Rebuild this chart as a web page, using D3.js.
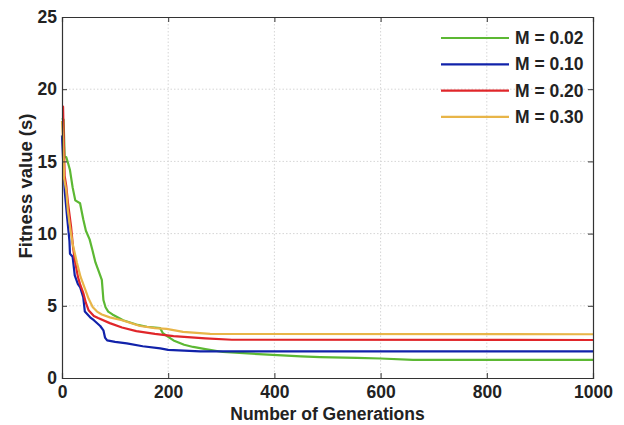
<!DOCTYPE html>
<html>
<head>
<meta charset="utf-8">
<script src="https://cdn.jsdelivr.net/npm/d3@7"></script>
<style>
  body { margin: 0; background: #fff; }
  svg { display: block; }
  text { font-family: "Liberation Sans", Arial, sans-serif; font-weight: bold; fill: #222; }
</style>
</head>
<body>
<svg id="chart" width="624" height="425"></svg>
<script>
// ---- data ----
const seriesNames = ["M = 0.02", "M = 0.10", "M = 0.20", "M = 0.30"];
const seriesColors = ["#5cb833", "#1122aa", "#e0262a", "#e8b548"];

const genGreen = [0, 3, 5, 8, 12, 15, 20, 25, 34, 40, 45, 52, 57, 63, 68, 75, 78, 82, 87, 95, 115, 140, 160, 185, 190, 210, 230, 247, 270, 303, 350, 397, 450, 486, 555, 600, 661, 1000];
const fitGreen = [18.0, 17.9, 15.3, 15.3, 14.8, 14.4, 13.2, 12.3, 12.1, 11.0, 10.2, 9.6, 8.9, 8.0, 7.5, 6.8, 5.4, 4.9, 4.6, 4.4, 4.0, 3.7, 3.55, 3.45, 3.1, 2.6, 2.3, 2.15, 2.0, 1.8, 1.7, 1.6, 1.5, 1.45, 1.4, 1.35, 1.25, 1.25];

const genBlue = [0, 2, 5, 10, 14, 15, 20, 24, 30, 34, 40, 43, 53, 60, 72, 78, 81, 85, 100, 122, 152, 185, 200, 230, 260, 1000];
const fitBlue = [16.8, 15.2, 13.0, 11.0, 9.5, 8.6, 8.4, 7.1, 6.5, 6.3, 5.6, 4.6, 4.2, 4.0, 3.6, 3.3, 2.8, 2.6, 2.5, 2.4, 2.2, 2.05, 1.95, 1.9, 1.85, 1.85];

const genRed = [0, 2, 3, 5, 8, 11, 17, 21, 24, 30, 34, 40, 45, 50, 60, 68, 90, 113, 140, 175, 210, 270, 320, 1000];
const fitRed = [18.8, 18.8, 17.0, 14.0, 13.3, 12.2, 10.5, 9.0, 8.2, 7.0, 6.5, 5.9, 5.2, 4.7, 4.3, 4.15, 3.8, 3.5, 3.25, 3.05, 2.9, 2.75, 2.65, 2.63];

const genYellow = [0, 2, 4, 8, 11, 15, 20, 28, 35, 43, 50, 58, 66, 75, 90, 113, 147, 175, 197, 228, 279, 1000];
const fitYellow = [17.8, 16.5, 13.8, 13.0, 11.6, 10.5, 9.3, 8.0, 7.0, 6.2, 5.5, 4.9, 4.6, 4.4, 4.2, 4.0, 3.6, 3.45, 3.4, 3.2, 3.05, 3.03];

const xTicks = [0, 200, 400, 600, 800, 1000];
const yTicks = [0, 5, 10, 15, 20, 25];
const xTitle = "Number of Generations";
const yTitle = "Fitness value (s)";

// ---- chart ----
(function () {
const svg = d3.select("#chart");
const pL = 62, pR = 593, pT = 17, pB = 378;
const x = d3.scaleLinear().domain([0, 1000]).range([pL, pR]);
const y = d3.scaleLinear().domain([0, 25]).range([pB, pT]);

// grid
const grid = svg.append("g");
grid.selectAll("line.gx").data(xTicks.slice(1, -1)).join("line")
  .attr("x1", d => x(d)).attr("x2", d => x(d)).attr("y1", pT).attr("y2", pB)
  .attr("stroke", "#d6d6d6").attr("stroke-width", 1).attr("stroke-dasharray", "1.5,2");
grid.selectAll("line.gy").data(yTicks.slice(1, -1)).join("line")
  .attr("y1", d => y(d)).attr("y2", d => y(d)).attr("x1", pL).attr("x2", pR)
  .attr("stroke", "#d6d6d6").attr("stroke-width", 1).attr("stroke-dasharray", "1.5,2");

// lines
const allSeries = [
  genGreen.map((g, i) => [g, fitGreen[i]]),
  genBlue.map((g, i) => [g, fitBlue[i]]),
  genRed.map((g, i) => [g, fitRed[i]]),
  genYellow.map((g, i) => [g, fitYellow[i]])
];
const line = d3.line().x(d => x(d[0])).y(d => y(d[1])).curve(d3.curveLinear);
svg.append("g").selectAll("path").data(allSeries).join("path")
  .attr("d", line).attr("fill", "none")
  .attr("stroke", (d, i) => seriesColors[i]).attr("stroke-width", 2.2)
  .attr("stroke-linejoin", "round");

// axes (MATLAB-style box with inward ticks)
const fmt = d3.format("d");
const gx = svg.append("g").attr("transform", `translate(0,${pB})`)
  .call(d3.axisBottom(x).tickValues(xTicks).tickFormat(fmt).tickSize(-5).tickPadding(8));
const gy = svg.append("g").attr("transform", `translate(${pL},0)`)
  .call(d3.axisLeft(y).tickValues(yTicks).tickFormat(fmt).tickSize(-5).tickPadding(5));
const gxt = svg.append("g").attr("transform", `translate(0,${pT})`)
  .call(d3.axisTop(x).tickValues(xTicks).tickSize(-5).tickFormat(""));
const gyr = svg.append("g").attr("transform", `translate(${pR},0)`)
  .call(d3.axisRight(y).tickValues(yTicks).tickSize(-5).tickFormat(""));
[gx, gy, gxt, gyr].forEach(g => {
  g.select(".domain").attr("stroke", "#333").attr("stroke-width", 1.2);
  g.selectAll(".tick line").attr("stroke", "#333");
  g.selectAll("text").attr("font-size", 17.5).attr("font-family", "Liberation Sans, Arial, sans-serif")
    .attr("font-weight", "bold").attr("fill", "#222");
});

// titles
svg.append("text").attr("x", (pL + pR) / 2).attr("y", 420)
  .attr("text-anchor", "middle").attr("font-size", 17.5).text(xTitle);
svg.append("text").attr("transform", `translate(32,186) rotate(-90)`)
  .attr("text-anchor", "middle").attr("font-size", 18.5).text(yTitle);

// legend
const lg = svg.append("g");
seriesNames.forEach((name, i) => {
  const yy = 38 + i * 26.3;
  lg.append("line").attr("x1", 441).attr("x2", 509).attr("y1", yy).attr("y2", yy)
    .attr("stroke", seriesColors[i]).attr("stroke-width", 2.2);
  lg.append("text").attr("x", 515).attr("y", yy + 6).attr("font-size", 17.5).text(name);
});
})();
</script>
</body>
</html>
